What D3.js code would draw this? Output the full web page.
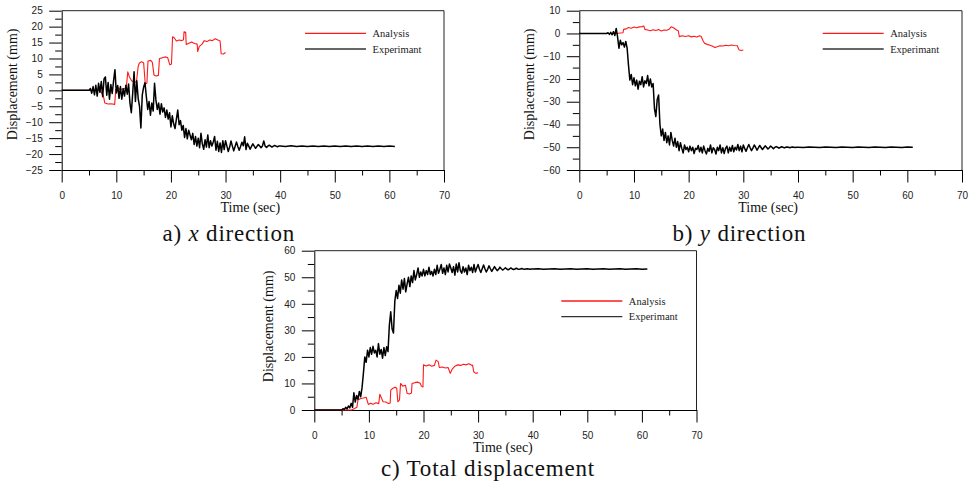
<!DOCTYPE html>
<html><head><meta charset="utf-8">
<script src="https://cdn.jsdelivr.net/npm/d3@7"></script>
<style>html,body{margin:0;padding:0;background:#fff;} svg{display:block}</style>
</head><body>
<svg id="chart" width="973" height="488"></svg>
<script>
// ---------- tick labels ----------
const xTickValues = [0, 10, 20, 30, 40, 50, 60, 70];
const xMinorTicks = [5, 15, 25, 35, 45, 55, 65];
const yTicksA = [-25, -20, -15, -10, -5, 0, 5, 10, 15, 20, 25];
const yMinorA = [-22.5, -17.5, -12.5, -7.5, -2.5, 2.5, 7.5, 12.5, 17.5, 22.5];
const yTicksB = [-60, -50, -40, -30, -20, -10, 0, 10];
const yMinorB = [-55, -45, -35, -25, -15, -5, 5];
const yTicksC = [0, 10, 20, 30, 40, 50, 60];
const yMinorC = [5, 15, 25, 35, 45, 55];
const seriesNames = ["Analysis", "Experimant"];

// ---------- experimental data (time in sec) ----------
const expTime = [0,
5,5.25,5.5,5.75, 6,6.25,6.5,6.75, 7,7.25,7.5,7.75, 8,8.25,8.5,8.75, 9,9.25,9.5,9.75,
10,10.25,10.5,10.75, 11,11.25,11.5,11.75, 12,12.25,12.5,12.75, 13,13.25,13.5,13.75, 14,14.25,14.5,14.75,
15,15.25,15.5,15.75, 16,16.25,16.5,16.75, 17,17.25,17.5,17.75, 18,18.25,18.5,18.75, 19,19.25,19.5,19.75,
20,20.25,20.5,20.75, 21,21.25,21.5,21.75, 22,22.25,22.5,22.75, 23,23.25,23.5,23.75, 24,24.25,24.5,24.75,
25,25.25,25.5,25.75, 26,26.25,26.5,26.75, 27,27.25,27.5,27.75, 28,28.25,28.5,28.75, 29,29.25,29.5,29.75,
30,30.25,30.5,30.75, 31,31.25,31.5,31.75, 32,32.25,32.5,32.75, 33,33.25,33.5,33.75, 34,34.25,34.5,34.75,
35,35.25,35.5,35.75, 36,36.25,36.5,36.75, 37,37.25,37.5,37.75, 38,38.25,38.5,38.75, 39,39.25,39.5,39.75,
40,41,42,43,44,45,46,47,48,49,50,51,52,53,54,55,56,57,58,59,60,61];

const expX = [0,
0,0.6,-0.9,1.2, -1.4,1.6,-1.8,2.2, -0.6,2.8,-2.0,3.6, 4.2,-1.5,2.5,-2.8, 1.8,-1.0,3.0,6.5,
-0.8,1.5,-2.5,1.2, -2.8,0.5,-1.8,1.6, -1.2,2.0,-4.0,-7.0, -1.0,5.8,-3.5,3.0, -2.5,-5.0,-11.8,-1.5,
1.0,2.4,-2.0,-6.0, -3.5,-7.8,-4.0,-6.5, 2.2,-3.0,-6.0,-4.0, -7.5,-4.2,-6.8,-5.5, -8.5,-6.2,-9.0,-7.0,
-11.5,-8.0,-10.5,-12.0, -9.0,-6.2,-10.8,-9.5, -12.5,-11.0,-14.8,-12.0, -15.2,-12.5,-14.0,-15.5, -13.5,-17.0,-14.5,-17.5,
-15.0,-18.0,-13.5,-16.8, -18.5,-15.5,-17.8,-14.0, -18.0,-15.8,-17.5,-16.2, -14.5,-18.8,-16.0,-19.2, -16.5,-19.5,-15.8,-18.6,
-15.8,-17.5,-19.2,-17.8, -15.9,-17.5,-19.0,-17.6, -16.2,-17.6,-18.8,-17.6, -16.3,-17.4,-14.6,-18.6, -16.6,-17.5,-18.5,-17.6,
-16.8,-17.5,-18.2,-17.6, -17.0,-17.5,-18.0,-17.5, -15.9,-17.5,-17.9,-17.5, -17.2,-17.5,-17.8,-17.5, -17.3,-17.5,-17.7,-17.5,
-17.5,-17.6,-17.4,-17.6,-17.5,-17.6,-17.5,-17.6,-17.5,-17.6,-17.5,-17.6,-17.5,-17.6,-17.5,-17.6,-17.5,-17.6,-17.5,-17.6,-17.5,-17.6];

const expY = [0,
0,0.3,-0.4,0.5, -0.6,0.8,-0.9,2.2, -1.5,-6.5,-3.0,-5.0, -4.0,-6.0,-3.5,-6.5, -14.0,-20.5,-18.0,-22.5,
-19.5,-23.0,-20.5,-24.5, -21.0,-22.5,-19.0,-23.5, -20.8,-22.0,-18.5,-23.0, -20.0,-23.5,-22.0,-33.0, -36.5,-29.0,-27.0,-40.0,
-45.0,-42.0,-47.0,-43.5, -48.0,-45.0,-49.0,-43.5, -47.0,-49.5,-46.0,-50.0, -47.5,-51.5,-48.0,-50.5, -52.5,-49.0,-51.0,-50.0,
-52.0,-49.5,-51.5,-50.0, -52.8,-50.5,-51.0,-49.2, -52.0,-50.0,-52.5,-49.5, -51.5,-53.0,-50.5,-51.8, -49.0,-52.5,-50.2,-51.0,
-53.0,-50.0,-51.5,-49.0, -52.5,-50.2,-52.8,-50.5, -49.5,-52.5,-50.0,-51.8, -49.2,-52.0,-50.0,-51.2, -48.8,-51.5,-49.5,-52.0,
-49.0,-50.5,-51.8,-50.2, -48.8,-50.2,-51.5,-50.4, -49.0,-50.0,-51.3,-50.3, -49.2,-50.1,-51.0,-50.2, -49.4,-50.0,-50.8,-50.2,
-49.5,-50.0,-50.6,-50.1, -49.7,-50.0,-50.4,-50.1, -49.8,-50.0,-50.3,-50.0, -49.9,-50.0,-50.2,-50.0, -49.9,-50.0,-50.1,-50.0,
-50.0,-50.1,-49.9,-50.0,-50.1,-49.9,-50.0,-50.1,-49.9,-50.0,-50.1,-49.9,-50.0,-50.1,-49.9,-50.0,-50.1,-49.9,-50.0,-50.1,-49.9,-50.0];

const expTotal = [0,
0,0.5,0.2,1.0, 0.4,1.5,0.8,2.5, 1.0,6.5,3.0,5.5, 4.0,7.0,5.0,8.5, 14.0,20.0,18.0,22.5,
20.0,23.5,21.0,24.0, 21.5,22.5,20.0,25.0, 21.0,22.8,19.5,23.5, 20.5,23.8,22.0,32.0, 37.0,30.5,29.0,41.0,
45.0,42.0,47.0,44.0, 49.0,45.5,49.5,44.5, 47.5,50.0,46.5,50.5, 48.0,52.5,49.0,51.0, 53.5,50.0,52.0,50.5,
53.0,50.5,52.5,51.0, 53.8,51.0,52.2,50.5, 53.0,51.0,54.5,51.5, 53.0,54.8,51.5,53.5, 51.0,54.5,52.0,55.0,
53.5,51.8,54.0,50.8, 55.0,52.0,55.5,52.5, 51.5,54.0,52.0,53.5, 51.0,54.5,52.5,53.8, 51.8,54.8,52.0,53.5,
54.8,53.0,51.8,53.2, 54.6,53.2,52.0,53.0, 54.3,53.2,52.2,53.1, 54.0,53.2,52.5,53.0, 53.8,53.2,52.7,53.1,
53.6,53.1,52.8,53.1, 53.5,53.1,52.9,53.1, 53.4,53.1,53.0,53.1, 53.3,53.1,53.0,53.1, 53.2,53.1,53.0,53.1,
53.1,53.2,53.0,53.1,53.2,53.0,53.1,53.2,53.0,53.1,53.2,53.0,53.1,53.2,53.0,53.1,53.2,53.0,53.1,53.2,53.0,53.1];

// ---------- analysis data ----------
const anaXTime = [0,7.0,7.6,7.9,8.5,9.0,9.7,9.9,10.3,10.8,11.3,11.8,12.1,12.4,12.8,13.3,13.7,14.0,14.2,14.6,15.0,15.3,15.6,15.8,16.3,16.6,16.9,17.3,17.7,17.9,18.4,18.9,19.4,19.8,20.1,20.3,20.6,21.0,21.5,22.0,22.3,22.4,22.7,22.8,23.3,23.8,24.3,24.8,24.9,25.2,25.7,26.1,26.6,27.1,27.6,28.1,28.6,29.0,29.2,29.6,30.0];
const anaX     = [0,0,-1.5,-4.0,-4.3,-4.2,-4.4,0.3,0.8,0.2,0.6,0.4,5.8,4.2,3.0,2.5,2.8,7.5,8.5,9.0,8.7,2.0,2.2,9.2,9.4,8.8,4.8,4.5,4.7,10.0,10.2,10.5,10.3,8.0,8.3,16.8,16.5,15.5,15.8,15.6,15.9,18.4,18.2,14.4,14.8,15.2,14.7,14.5,12.2,13.8,14.5,15.6,15.3,15.8,15.6,16.2,15.8,15.5,11.5,11.4,11.9];

const anaYTime = [0,6.8,7.5,8.0,8.1,8.6,9.0,9.5,10.0,10.5,11.0,11.5,11.8,12.0,12.5,13.0,13.5,14.0,14.5,15.0,15.5,16.0,16.5,16.8,17.3,17.8,18.1,18.3,18.8,19.4,20.0,20.5,21.0,21.5,22.0,22.3,22.6,22.9,23.4,23.9,24.4,24.8,25.2,25.7,26.3,26.8,27.3,27.8,28.3,28.9,29.2,29.6,30.0];
const anaY     = [0,0,0.2,0.3,1.8,2.0,2.6,2.3,2.8,2.5,2.9,3.0,3.3,1.8,1.5,1.2,1.6,1.3,1.7,1.1,1.5,1.4,2.0,2.9,2.4,1.5,1.2,-1.4,-1.0,-1.3,-1.0,-1.5,-1.2,-1.6,-1.0,-1.3,-3.0,-4.3,-4.8,-5.2,-5.6,-6.2,-5.8,-5.4,-5.5,-5.2,-5.4,-5.1,-5.3,-5.4,-7.2,-7.5,-7.3];

const anaTTime = [0,6.8,7.3,7.8,8.0,8.5,9.0,9.5,9.9,10.3,10.8,11.3,11.8,12.0,12.3,12.6,13.1,13.5,13.9,14.0,14.4,14.8,15.1,15.3,15.6,15.8,16.2,16.7,17.0,17.4,17.8,17.9,18.4,18.9,19.4,19.6,19.9,20.0,20.5,21.0,21.5,22.0,22.3,22.7,22.9,23.5,24.0,24.5,24.9,25.3,25.8,26.3,26.8,27.3,27.8,28.3,28.7,29.0,29.2,29.6,30.0];
const anaT     = [0,0,0.5,1.0,3.8,4.3,4.5,4.8,2.1,2.5,2.2,2.7,2.4,5.9,4.5,3.1,3.0,2.5,2.6,7.5,8.2,8.6,8.2,3.1,3.8,10.0,9.0,9.3,6.3,6.0,6.4,10.0,10.3,10.5,10.1,9.0,8.7,17.0,16.6,17.0,16.5,16.8,18.8,18.2,16.0,16.2,15.8,16.0,13.8,15.5,16.6,17.0,16.8,17.2,17.0,17.4,17.0,16.8,14.4,13.8,14.0];

// ---------- drawing ----------
const svg = d3.select('#chart');
const RED = '#ff1a1a', BLACK = '#000';
const tickFont = '"Liberation Sans", Arial, sans-serif';
const serif = '"Liberation Serif", "Times New Roman", serif';

function zip(t, v){ const n = Math.min(t.length, v.length); const out=[]; for(let i=0;i<n;i++) out.push([t[i], v[i]]); return out; }

function drawPanel(p){
  const g = svg.append('g');
  const x = d3.scaleLinear().domain([0,70]).range([p.left, p.right]);
  const y = d3.scaleLinear().domain(p.yDomain).range([p.bottom, p.top]);

  // frame top/right
  g.append('path').attr('d', `M${p.left},${p.top}H${p.right}V${p.bottom}`)
    .attr('fill','none').attr('stroke','#222').attr('stroke-width',1);

  // x axis
  g.append('g').attr('transform',`translate(0,${p.bottom})`)
    .call(d3.axisBottom(x).tickValues(xTickValues).tickSize(12.5).tickSizeOuter(0).tickPadding(9.4).tickFormat(d3.format('d')));
  g.append('g').attr('transform',`translate(0,${p.bottom})`)
    .call(d3.axisBottom(x).tickValues(xMinorTicks).tickSize(5.5).tickSizeOuter(0).tickFormat(''))
    .select('.domain').remove();
  // y axis
  g.append('g').attr('transform',`translate(${p.left},0)`)
    .call(d3.axisLeft(y).tickValues(p.yTicks).tickSize(12.5).tickSizeOuter(0).tickPadding(6.5).tickFormat(d3.format('d')));
  g.append('g').attr('transform',`translate(${p.left},0)`)
    .call(d3.axisLeft(y).tickValues(p.yMinor).tickSize(6.5).tickSizeOuter(0).tickFormat(''))
    .select('.domain').remove();

  g.selectAll('.tick text').attr('font-family', tickFont).attr('font-size', 10).attr('fill','#222');
  g.selectAll('.tick line, .domain').attr('stroke','#000').attr('stroke-width',1);

  // titles
  g.append('text').attr('x', (p.left+p.right)/2 - 2.5).attr('y', p.bottom + 42.3)
    .attr('text-anchor','middle').attr('font-family',serif).attr('font-size',14).attr('fill','#111')
    .text('Time (sec)');
  const cy = (p.top+p.bottom)/2 - p.ytOff;
  g.append('text').attr('transform', `translate(${p.left - p.ytx},${cy}) rotate(-90)`)
    .attr('text-anchor','middle').attr('font-family',serif).attr('font-size',14).attr('fill','#111')
    .text('Displacement (mm)');

  // data
  const line = d3.line().x(d=>x(d[0])).y(d=>y(d[1]));
  g.append('path').datum(zip(p.anaTime, p.ana)).attr('d', line)
    .attr('fill','none').attr('stroke',RED).attr('stroke-width',1.1).attr('stroke-linejoin','round');
  g.append('path').datum(zip(expTime, p.exp)).attr('d', line)
    .attr('fill','none').attr('stroke',BLACK).attr('stroke-width',1.5).attr('stroke-linejoin','round');

  // legend
  const lx0 = p.right + p.legDx, lx1 = lx0 + 61;
  [[RED, seriesNames[0], p.top + p.legDy], ['#333', seriesNames[1], p.top + p.legDy + 15.7]].forEach(([c, name, ly])=>{
    g.append('line').attr('x1',lx0).attr('x2',lx1).attr('y1',ly).attr('y2',ly).attr('stroke',c).attr('stroke-width',1.3);
    g.append('text').attr('x', lx1 + 6.5).attr('y', ly + 3.5).attr('font-family',serif).attr('font-size',10.5).attr('fill','#222').text(name);
  });

  // caption
  const cap = g.append('text').attr('x', p.capX).attr('y', p.capY)
    .attr('font-family',serif).attr('font-size',23).attr('letter-spacing',0.8).attr('fill','#111');
  cap.append('tspan').attr('font-family',serif).text(p.cap[0]);
  if (p.cap[1]) cap.append('tspan').attr('font-family',serif).attr('font-style','italic').text(p.cap[1]);
  if (p.cap[2]) cap.append('tspan').attr('font-family',serif).text(p.cap[2]);
}

drawPanel({left:61.7, right:444, top:10.7, bottom:170, yDomain:[-25,25], yTicks:yTicksA, yMinor:yMinorA,
  exp:expX, anaTime:anaXTime, ana:anaX, legDx:-139, legDy:22.6, ytx:45, ytOff:6,
  capX:162.5, capY:241, cap:['a) ','x',' direction']});
drawPanel({left:579.3, right:962, top:10.7, bottom:170, yDomain:[-60,10], yTicks:yTicksB, yMinor:yMinorB,
  exp:expY, anaTime:anaYTime, ana:anaY, legDx:-139.3, legDy:22.6, ytx:45, ytOff:6,
  capX:672.5, capY:241, cap:['b) ','y',' direction']});
drawPanel({left:314.3, right:696.5, top:250.7, bottom:410, yDomain:[0,60], yTicks:yTicksC, yMinor:yMinorC,
  exp:expTotal, anaTime:anaTTime, ana:anaT, legDx:-135.2, legDy:50.3, ytx:41.5, ytOff:4,
  capX:381, capY:476, cap:['c) Total displacement']});
</script>
</body></html>
